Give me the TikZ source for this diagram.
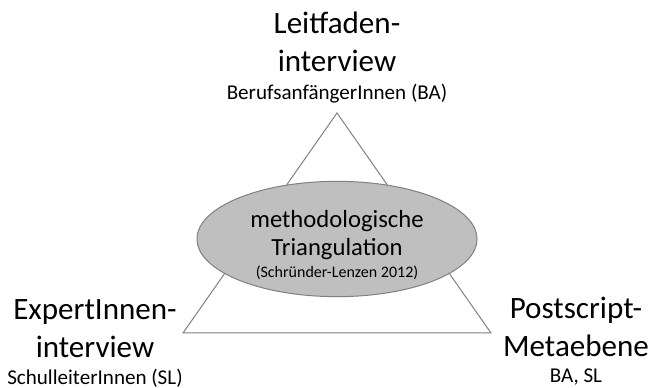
\documentclass[tikz,border=0pt]{standalone}
\usepackage{fontspec}
\setmainfont{Carlito}
\usetikzlibrary{positioning,shapes.geometric}
\definecolor{linegray}{RGB}{128,128,128}
\definecolor{softgray}{RGB}{191,191,191}
\tikzset{
  bigtext/.style={
    align=center,
    inner sep=0pt,
    font=\fontsize{23.3}{28.5}\selectfont
  },
  subtext/.style={
    inner sep=0pt,
    font=\fontsize{15.8}{19}\selectfont
  },
  methode/.style={
    ellipse,
    draw=linegray,
    fill=softgray,
    line width=0.75pt,
    minimum width=210pt,
    minimum height=76.5pt,
    inner sep=0pt,
    align=center,
    font=\fontsize{18.5}{21}\selectfont
  },
  triline/.style={draw=linegray, line width=0.75pt}
}

\begin{document}
\begin{tikzpicture}[x=0.75pt, y=-0.75pt]
  \useasboundingbox (0,0) rectangle (651,388);
  % triangle
  \coordinate (top) at (337,113);
  \coordinate (left) at (183,333);
  \coordinate (right) at (491,333);
  \draw[triline] (left) -- (right) -- (top) -- cycle;
  % centre
  \node[methode] (tri) at (337,239) {\rule{0pt}{22pt}methodologische\\Triangulation\\[-4.5pt]{\fontsize{12}{14}\selectfont(Schründer-Lenzen 2012)}};
  % corners
  \node[bigtext, anchor=south] (leit) at (337,72) {Leitfaden-\\interview};
  \node[subtext, below=21pt of leit, anchor=base] (ba) {BerufsanfängerInnen (BA)};
  \node[bigtext, anchor=south] (expert) at (95,358) {ExpertInnen-\\interview};
  \node[subtext, below=20pt of expert, anchor=base] (sl) {SchulleiterInnen (SL)};
  \node[bigtext, anchor=south] (post) at (576,357) {Postscript-\\Metaebene};
  \node[subtext, below=19pt of post, anchor=base] (basl) {BA, SL};
\end{tikzpicture}
\end{document}
